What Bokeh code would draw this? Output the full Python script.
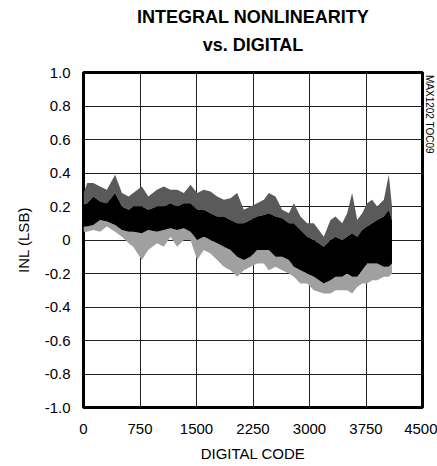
from bokeh.plotting import figure
from bokeh.models import FixedTicker, ColumnDataSource, Range1d, LinearAxis
from bokeh.embed import file_html
from bokeh.resources import INLINE

# ---- data (INL envelope vs digital code) ----
codes = [0, 50, 130, 220, 310, 420, 510, 600, 660, 775, 860, 975, 1066, 1155, 1243, 1332,
         1420, 1509, 1597, 1686, 1774, 1863, 1951, 2040, 2128, 2217, 2305, 2394, 2460, 2549,
         2637, 2726, 2792, 2880, 2969, 3058, 3190, 3279, 3345, 3434, 3500, 3566, 3633, 3700,
         3765, 3832, 3898, 3987, 4053, 4095]
spike_hi = [0.28, 0.34, 0.34, 0.32, 0.30, 0.39, 0.28, 0.26, 0.28, 0.32, 0.26, 0.30, 0.32, 0.30,
            0.30, 0.28, 0.33, 0.28, 0.30, 0.29, 0.26, 0.24, 0.25, 0.28, 0.18, 0.20, 0.22, 0.24,
            0.28, 0.26, 0.18, 0.16, 0.22, 0.14, 0.10, 0.10, 0.02, 0.12, 0.14, 0.10, 0.16, 0.28,
            0.12, 0.16, 0.22, 0.24, 0.20, 0.24, 0.39, 0.20]
core_hi = [0.21, 0.22, 0.26, 0.23, 0.22, 0.28, 0.20, 0.18, 0.20, 0.20, 0.18, 0.20, 0.20, 0.22,
           0.20, 0.22, 0.22, 0.18, 0.18, 0.16, 0.14, 0.14, 0.12, 0.10, 0.10, 0.12, 0.14, 0.15,
           0.16, 0.14, 0.13, 0.10, 0.10, 0.06, 0.02, 0.00, -0.04, 0.00, 0.02, 0.00, 0.02, 0.04,
           0.02, 0.06, 0.08, 0.10, 0.12, 0.14, 0.18, 0.12]
core_lo = [0.08, 0.08, 0.09, 0.12, 0.11, 0.09, 0.06, 0.05, 0.05, 0.04, 0.06, 0.05, 0.06, 0.07,
           0.06, 0.07, 0.05, 0.00, 0.02, 0.00, -0.02, -0.04, -0.06, -0.10, -0.12, -0.10, -0.06,
           -0.06, -0.06, -0.10, -0.10, -0.12, -0.16, -0.18, -0.20, -0.22, -0.26, -0.24, -0.22,
           -0.22, -0.20, -0.22, -0.22, -0.18, -0.14, -0.14, -0.14, -0.16, -0.16, -0.14]
fringe_lo = [0.05, 0.05, 0.06, 0.05, 0.08, 0.05, 0.02, -0.02, -0.04, -0.12, -0.06, -0.02, -0.04,
             0.02, -0.04, 0.00, 0.00, -0.12, -0.06, -0.08, -0.12, -0.16, -0.18, -0.22, -0.18,
             -0.16, -0.14, -0.14, -0.18, -0.16, -0.18, -0.20, -0.22, -0.26, -0.26, -0.30, -0.32,
             -0.32, -0.30, -0.30, -0.30, -0.32, -0.28, -0.26, -0.26, -0.24, -0.24, -0.22, -0.22,
             -0.20]

x_ticks = [0, 750, 1500, 2250, 3000, 3750, 4500]
y_ticks = [-1.0, -0.8, -0.6, -0.4, -0.2, 0.0, 0.2, 0.4, 0.6, 0.8, 1.0]
y_tick_labels = ["-1.0", "-0.8", "-0.6", "-0.4", "-0.2", "0", "0.2", "0.4", "0.6", "0.8", "1.0"]

title_1 = "INTEGRAL NONLINEARITY"
title_2 = "vs. DIGITAL"
title_at = 2250          # title lines are centred over the middle of the x axis
x_title = "DIGITAL CODE"
y_title = "INL (LSB)"
note = "MAX1202 TOC09"
note_at = 0.75

FONT = "Liberation Sans"

src = ColumnDataSource(dict(x=codes, shi=spike_hi, chi=core_hi, clo=core_lo, flo=fringe_lo))

p = figure(width=437, height=466, output_backend="svg", toolbar_location=None,
           x_range=Range1d(0, 4500), y_range=Range1d(-1.0, 1.0),
           min_border_left=83, min_border_right=15, min_border_top=72, min_border_bottom=59)
p.title.text = ""

p.outline_line_color = "black"
p.outline_line_width = 3
p.background_fill_color = "white"
p.border_fill_color = "white"

p.xgrid.ticker = FixedTicker(ticks=x_ticks)
p.ygrid.ticker = FixedTicker(ticks=y_ticks)
for g in (p.xgrid, p.ygrid):
    g.grid_line_color = "#222222"
    g.grid_line_width = 1

p.xaxis.ticker = FixedTicker(ticks=x_ticks)
p.yaxis.ticker = FixedTicker(ticks=y_ticks)
p.yaxis.major_label_overrides = {t: l for t, l in zip(y_ticks, y_tick_labels)}
p.xaxis.axis_label = x_title
p.yaxis.axis_label = y_title
for ax in (p.xaxis, p.yaxis):
    ax.axis_line_color = None
    ax.major_tick_line_color = None
    ax.minor_tick_line_color = None
    ax.major_tick_out = 0
    ax.major_tick_in = 0
    ax.major_label_text_font = FONT
    ax.major_label_text_font_size = "15px"
    ax.major_label_text_color = "black"
    ax.axis_label_text_font = FONT
    ax.axis_label_text_font_size = "15px"
    ax.axis_label_text_font_style = "normal"
    ax.axis_label_text_color = "black"
p.xaxis.major_label_standoff = 16
p.yaxis.major_label_standoff = 13
p.xaxis.axis_label_standoff = 8
p.yaxis.axis_label_standoff = 10


def text_axis(tick, label, size, style, standoff, orientation="horizontal"):
    return LinearAxis(ticker=FixedTicker(ticks=[tick]),
                      major_label_overrides={tick: label},
                      major_label_orientation=orientation,
                      major_label_text_font=FONT, major_label_text_font_size=size,
                      major_label_text_font_style=style, major_label_text_color="black",
                      major_label_standoff=standoff, axis_line_color=None,
                      major_tick_line_color=None, minor_tick_line_color=None,
                      major_tick_in=0, major_tick_out=0)


# title: second line nearest the frame, first line above it
p.add_layout(text_axis(title_at, title_2, "18px", "bold", 18), "above")
p.add_layout(text_axis(title_at, title_1, "18px", "bold", 5), "above")

# figure code along the right edge
p.add_layout(text_axis(note_at, note, "10px", "normal", 1, "vertical"), "right")

# lighter lower fringe, darker upper spikes, black core
p.varea(x="x", y1="flo", y2="clo", source=src, fill_color="#a0a0a0", fill_alpha=1.0)
p.varea(x="x", y1="chi", y2="shi", source=src, fill_color="#5a5a5a", fill_alpha=1.0)
p.varea(x="x", y1="clo", y2="chi", source=src, fill_color="black", fill_alpha=1.0)

open("out.html", "w").write(file_html(p, INLINE))
